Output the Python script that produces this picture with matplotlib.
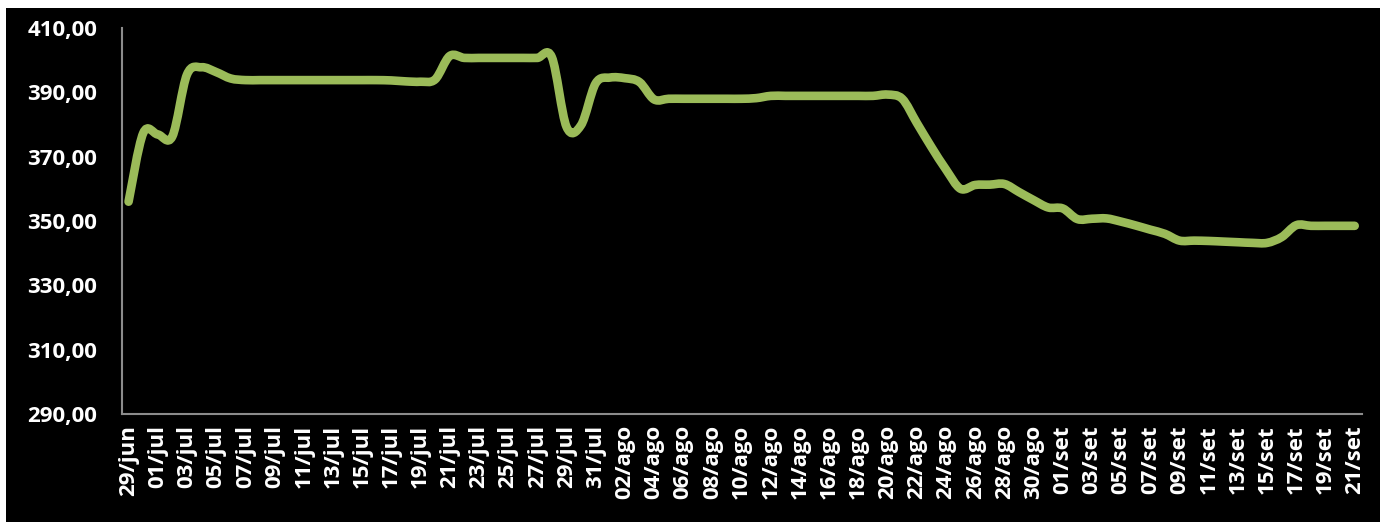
import matplotlib
matplotlib.use('Agg')
import matplotlib.pyplot as plt
from matplotlib.path import Path
from matplotlib.patches import PathPatch, Rectangle
import numpy as np
import pandas as pd

# datas diarias 29/jun a 21/set
datas = pd.date_range('2013-06-29', '2013-09-21', freq='D')
meses = {6: 'jun', 7: 'jul', 8: 'ago', 9: 'set'}
rotulos = [f'{d.day:02d}/{meses[d.month]}' for d in datas]

valores = [
    356.0, 377.3, 376.9, 376.3, 395.5, 397.8, 396.3, 394.3, 393.8, 393.8,
    393.8, 393.8, 393.8, 393.8, 393.8, 393.8, 393.8, 393.8, 393.7, 393.4,
    393.3, 394.0, 401.3, 400.7, 400.7, 400.7, 400.7, 400.7, 400.7, 400.9,
    379.3, 379.8, 392.8, 394.6, 394.4, 393.2, 387.8, 388.0, 388.0, 388.0,
    388.0, 388.0, 388.0, 388.2, 388.9, 388.9, 388.9, 388.9, 388.9, 388.9,
    388.9, 388.9, 389.3, 388.0, 380.5, 373.0, 366.0, 360.0, 361.2, 361.3,
    361.5, 359.0, 356.5, 354.2, 353.9, 350.6, 350.7, 350.8, 349.8, 348.6,
    347.3, 346.0, 343.9, 343.9, 343.8, 343.6, 343.4, 343.2, 343.2, 345.0,
    348.7, 348.5, 348.5, 348.5, 348.5,
]

y_ticks = [290, 310, 330, 350, 370, 390, 410]

fig = plt.figure(figsize=(13.8, 5.22), dpi=100, facecolor='white')
# fundo preto (faixa branca fina no topo e a esquerda)
fig.patches.append(Rectangle((6 / 1380, 0), 1, 1 - 8 / 522, transform=fig.transFigure,
                             facecolor='black', edgecolor='none', zorder=-10))
ax = fig.add_axes([122 / 1380, 1 - 414 / 522, (1362 - 122) / 1380, (414 - 28) / 522])
ax.set_facecolor('black')

# linha suavizada (bezier tipo excel)
x = np.arange(len(valores), dtype=float)
y = np.array(valores)
pts = np.column_stack([x, y])
verts = [pts[0]]
codes = [Path.MOVETO]
n = len(pts)
for i in range(n - 1):
    p0 = pts[max(i - 1, 0)]
    p1 = pts[i]
    p2 = pts[i + 1]
    p3 = pts[min(i + 2, n - 1)]
    verts += [p1 + (p2 - p0) / 6, p2 - (p3 - p1) / 6, p2]
    codes += [Path.CURVE4] * 3
ax.add_patch(PathPatch(Path(verts, codes), fill=False, edgecolor='#9BBB59',
                       linewidth=6.2, capstyle='round', joinstyle='round'))

ax.set_xlim(-0.45, len(valores) - 0.5)
ax.set_ylim(290, 410)
ax.set_yticks(y_ticks)
ax.set_yticklabels([f'{v},00' for v in y_ticks])
ax.set_xticks(x[::2])
ax.set_xticklabels(rotulos[::2], rotation=90)

for lbl in ax.get_xticklabels() + ax.get_yticklabels():
    lbl.set_fontfamily('Open Sans')
    lbl.set_fontweight('bold')
    lbl.set_fontsize(16)
    lbl.set_color('white')
ax.tick_params(axis='both', length=0)
ax.tick_params(axis='y', pad=18)
ax.tick_params(axis='x', pad=8)

for s in ['top', 'right']:
    ax.spines[s].set_visible(False)
for s in ['left', 'bottom']:
    ax.spines[s].set_color('#8c8c8c')
    ax.spines[s].set_linewidth(1.5)

fig.savefig('out.png', dpi=100, facecolor=fig.get_facecolor())
